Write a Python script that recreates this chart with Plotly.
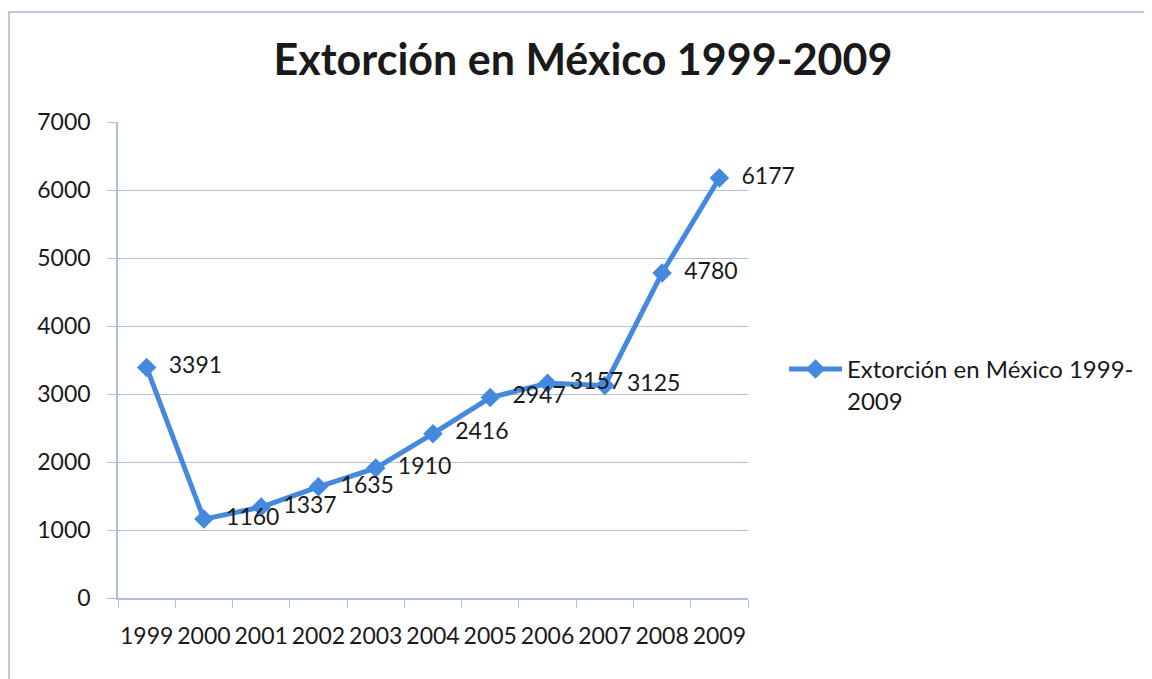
import plotly.graph_objects as go

years = ["1999", "2000", "2001", "2002", "2003", "2004", "2005", "2006", "2007", "2008", "2009"]
values = [3391, 1160, 1337, 1635, 1910, 2416, 2947, 3157, 3125, 4780, 6177]
y_ticks = [0, 1000, 2000, 3000, 4000, 5000, 6000, 7000]
series_name = "Extorción en México 1999-<br>2009"
title_text = "Extorción en México 1999-2009"

# the page body has an 8px margin, so the figure starts at page (8, 8)
OFF = 8
W, H = 1152 - OFF, 679 - OFF
# plot area in page pixels: x 118..748, y 122..598
L, R, T, B = 118 - OFF, 1152 - 748, 122 - OFF, 679 - 598
pw, ph = W - L - R, H - T - B

def px_x(x):  # page x -> paper fraction
    return (x - OFF - L) / pw

def px_y(y):  # page y -> paper fraction
    return (H - B - (y - OFF)) / ph

FONT = "Lato"
BLUE = "#4589DE"
GRID = "#AFBEDD"
TXT = "#1a1a1a"

fig = go.Figure()
fig.add_trace(go.Scatter(
    x=years, y=values, name=series_name,
    mode="lines+markers+text",
    line=dict(color=BLUE, width=5),
    marker=dict(symbol="diamond", size=15, color=BLUE),
    text=["\u00a0\u00a0" + str(v) for v in values],
    textposition="middle right",
    textfont=dict(family=FONT, size=23, color=TXT),
    cliponaxis=False,
))

fig.update_layout(
    width=W, height=H,
    margin=dict(l=L, r=R, t=T, b=B),
    paper_bgcolor="white", plot_bgcolor="white",
    font=dict(family=FONT, color=TXT, size=23),
    title=dict(text="<b>" + title_text + "</b>", xref="container",
               x=(583 - OFF) / W, xanchor="center",
               y=1 - (60 - OFF) / H, yanchor="middle",
               font=dict(family=FONT, size=43, color=TXT)),
    showlegend=True,
    legend=dict(x=px_x(784), y=px_y(347), xanchor="left", yanchor="top",
                valign="top",
                font=dict(family=FONT, size=24, color=TXT),
                bgcolor="rgba(0,0,0,0)", itemwidth=53),
    xaxis=dict(type="category", tickson="boundaries", ticks="outside", ticklen=8,
               tickcolor=GRID, showline=True, linecolor=GRID, linewidth=1.5,
               showgrid=False, tickangle=0,
               tickfont=dict(family=FONT, size=23, color=TXT),
               ticklabelstandoff=17, range=[-0.5, 10.5]),
    yaxis=dict(range=[0, 7000], tickvals=y_ticks, ticks="outside", ticklen=9,
               tickcolor=GRID, showline=True, linecolor=GRID, linewidth=1.5,
               showgrid=True, gridcolor=GRID, gridwidth=1, zeroline=False,
               tickfont=dict(family=FONT, size=23, color=TXT), ticklabelstandoff=12),
)

# outer chart border (runs past the right and bottom edges, as in the scan)
fig.add_shape(type="rect", xref="paper", yref="paper",
              x0=px_x(9), x1=px_x(1152 + 20), y0=px_y(679 + 20), y1=px_y(12),
              line=dict(color="#A9B7D6", width=1.5), fillcolor="rgba(0,0,0,0)", layer="below")

# heading above the chart, cut off by the top edge as in the scan
fig.add_annotation(text="<b>TABLA 1</b>", xref="paper", yref="paper",
                   x=px_x(8), y=px_y(10), xanchor="left", yanchor="bottom",
                   showarrow=False, font=dict(family=FONT, size=26, color="#111"))

fig.write_html("out.html")
